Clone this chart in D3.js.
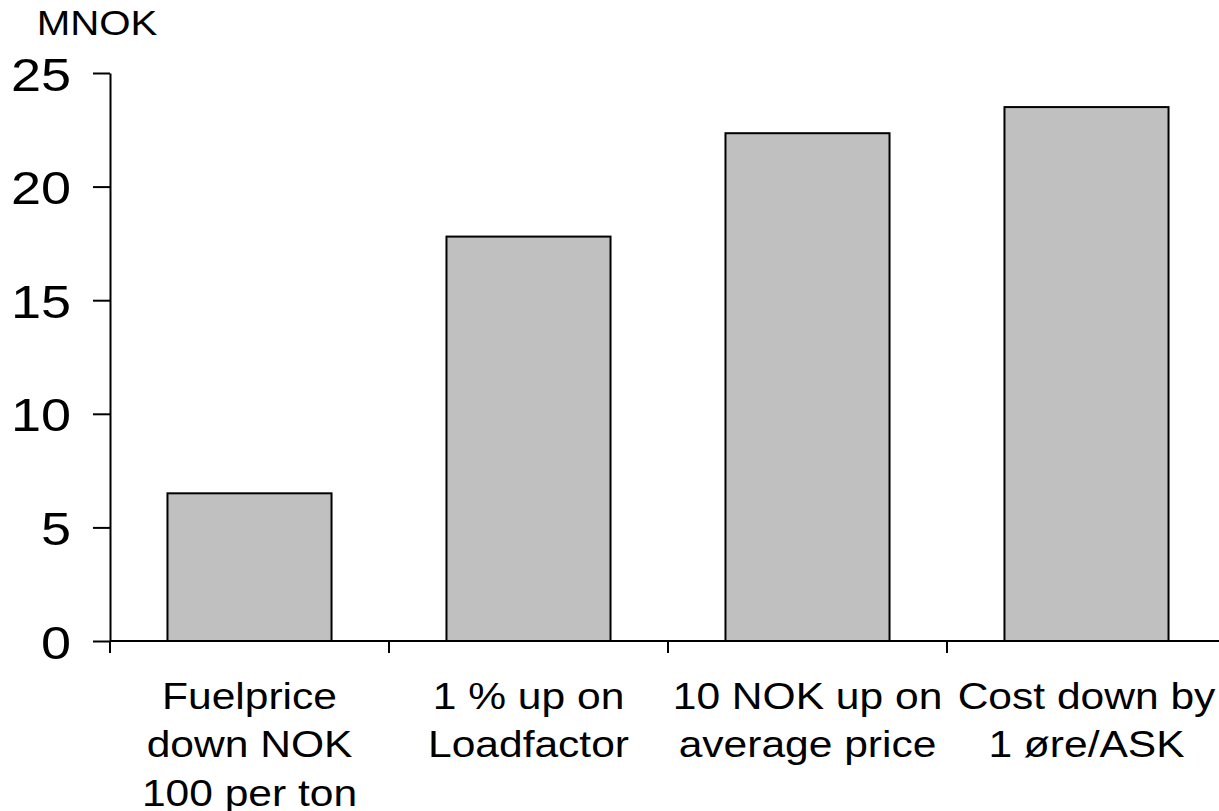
<!DOCTYPE html>
<html>
<head>
<meta charset="utf-8">
<script src="https://cdn.jsdelivr.net/npm/d3@7"></script>
<style>
  html, body { margin: 0; padding: 0; background: #fff; }
  svg { display: block; }
  text { font-family: "Liberation Sans", Arial, sans-serif; fill: #000; }
</style>
</head>
<body>
<svg id="chart" width="1219" height="811"></svg>
<script>
const categories = [
  ["Fuelprice", "down NOK", "100 per ton"],
  ["1 % up on", "Loadfactor"],
  ["10 NOK up on", "average price"],
  ["Cost down by", "1 øre/ASK"]
];
const values = [6.5, 17.8, 22.35, 23.5];
const yTicks = [0, 5, 10, 15, 20, 25];
const yTitle = "MNOK";

const svg = d3.select("#chart");
const SX = 1.15;

const x = d3.scaleBand()
  .domain(d3.range(categories.length))
  .range([110, 1226])
  .paddingInner(0.412)
  .paddingOuter(0.206);

const y = d3.scaleLinear().domain([0, 25]).range([641, 73]);

// bars
svg.append("g").selectAll("rect")
  .data(values)
  .join("rect")
  .attr("x", (d, i) => x(i))
  .attr("width", x.bandwidth())
  .attr("y", d => y(d))
  .attr("height", d => y(0) - y(d))
  .attr("fill", "#c0c0c0")
  .attr("stroke", "#000")
  .attr("stroke-width", 2);

// y axis
const yAxis = d3.axisLeft(y).tickValues(yTicks).tickSize(17).tickSizeOuter(0).tickPadding(22);
const gy = svg.append("g").attr("transform", "translate(110,0)").call(yAxis);
gy.select(".domain").attr("stroke", "#000").attr("stroke-width", 2);
gy.selectAll(".tick line").attr("stroke", "#000").attr("stroke-width", 2);
gy.selectAll(".tick text")
  .attr("font-size", 47)
  .attr("font-family", "Liberation Sans, Arial, sans-serif")
  .attr("x", null).attr("dy", null)
  .attr("text-anchor", "end")
  .attr("transform", "translate(-39,17) scale(" + SX + ",1)");

// x axis line + boundary ticks
const step = x.step();
const start = x.range()[0];
svg.append("line")
  .attr("x1", 110).attr("x2", 1219)
  .attr("y1", y(0)).attr("y2", y(0))
  .attr("stroke", "#000").attr("stroke-width", 2);
svg.append("g").selectAll("line")
  .data(d3.range(categories.length + 1))
  .join("line")
  .attr("x1", i => start + i * step).attr("x2", i => start + i * step)
  .attr("y1", y(0)).attr("y2", y(0) + 12)
  .attr("stroke", "#000").attr("stroke-width", 2);

// category labels
const lab = svg.append("g").selectAll("g")
  .data(categories)
  .join("g")
  .attr("transform", (d, i) => "translate(" + (x(i) + x.bandwidth() / 2) + ",709) scale(" + SX + ",1)");
lab.each(function(lines) {
  d3.select(this).selectAll("text")
    .data(lines)
    .join("text")
    .attr("x", 0)
    .attr("y", (d, j) => j * 48.5)
    .attr("text-anchor", "middle")
    .attr("font-size", 37)
    .text(d => d);
});

// y title
svg.append("text")
  .attr("transform", "translate(97,35) scale(" + SX + ",1)")
  .attr("text-anchor", "middle")
  .attr("font-size", 35)
  .text(yTitle);
</script>
</body>
</html>
